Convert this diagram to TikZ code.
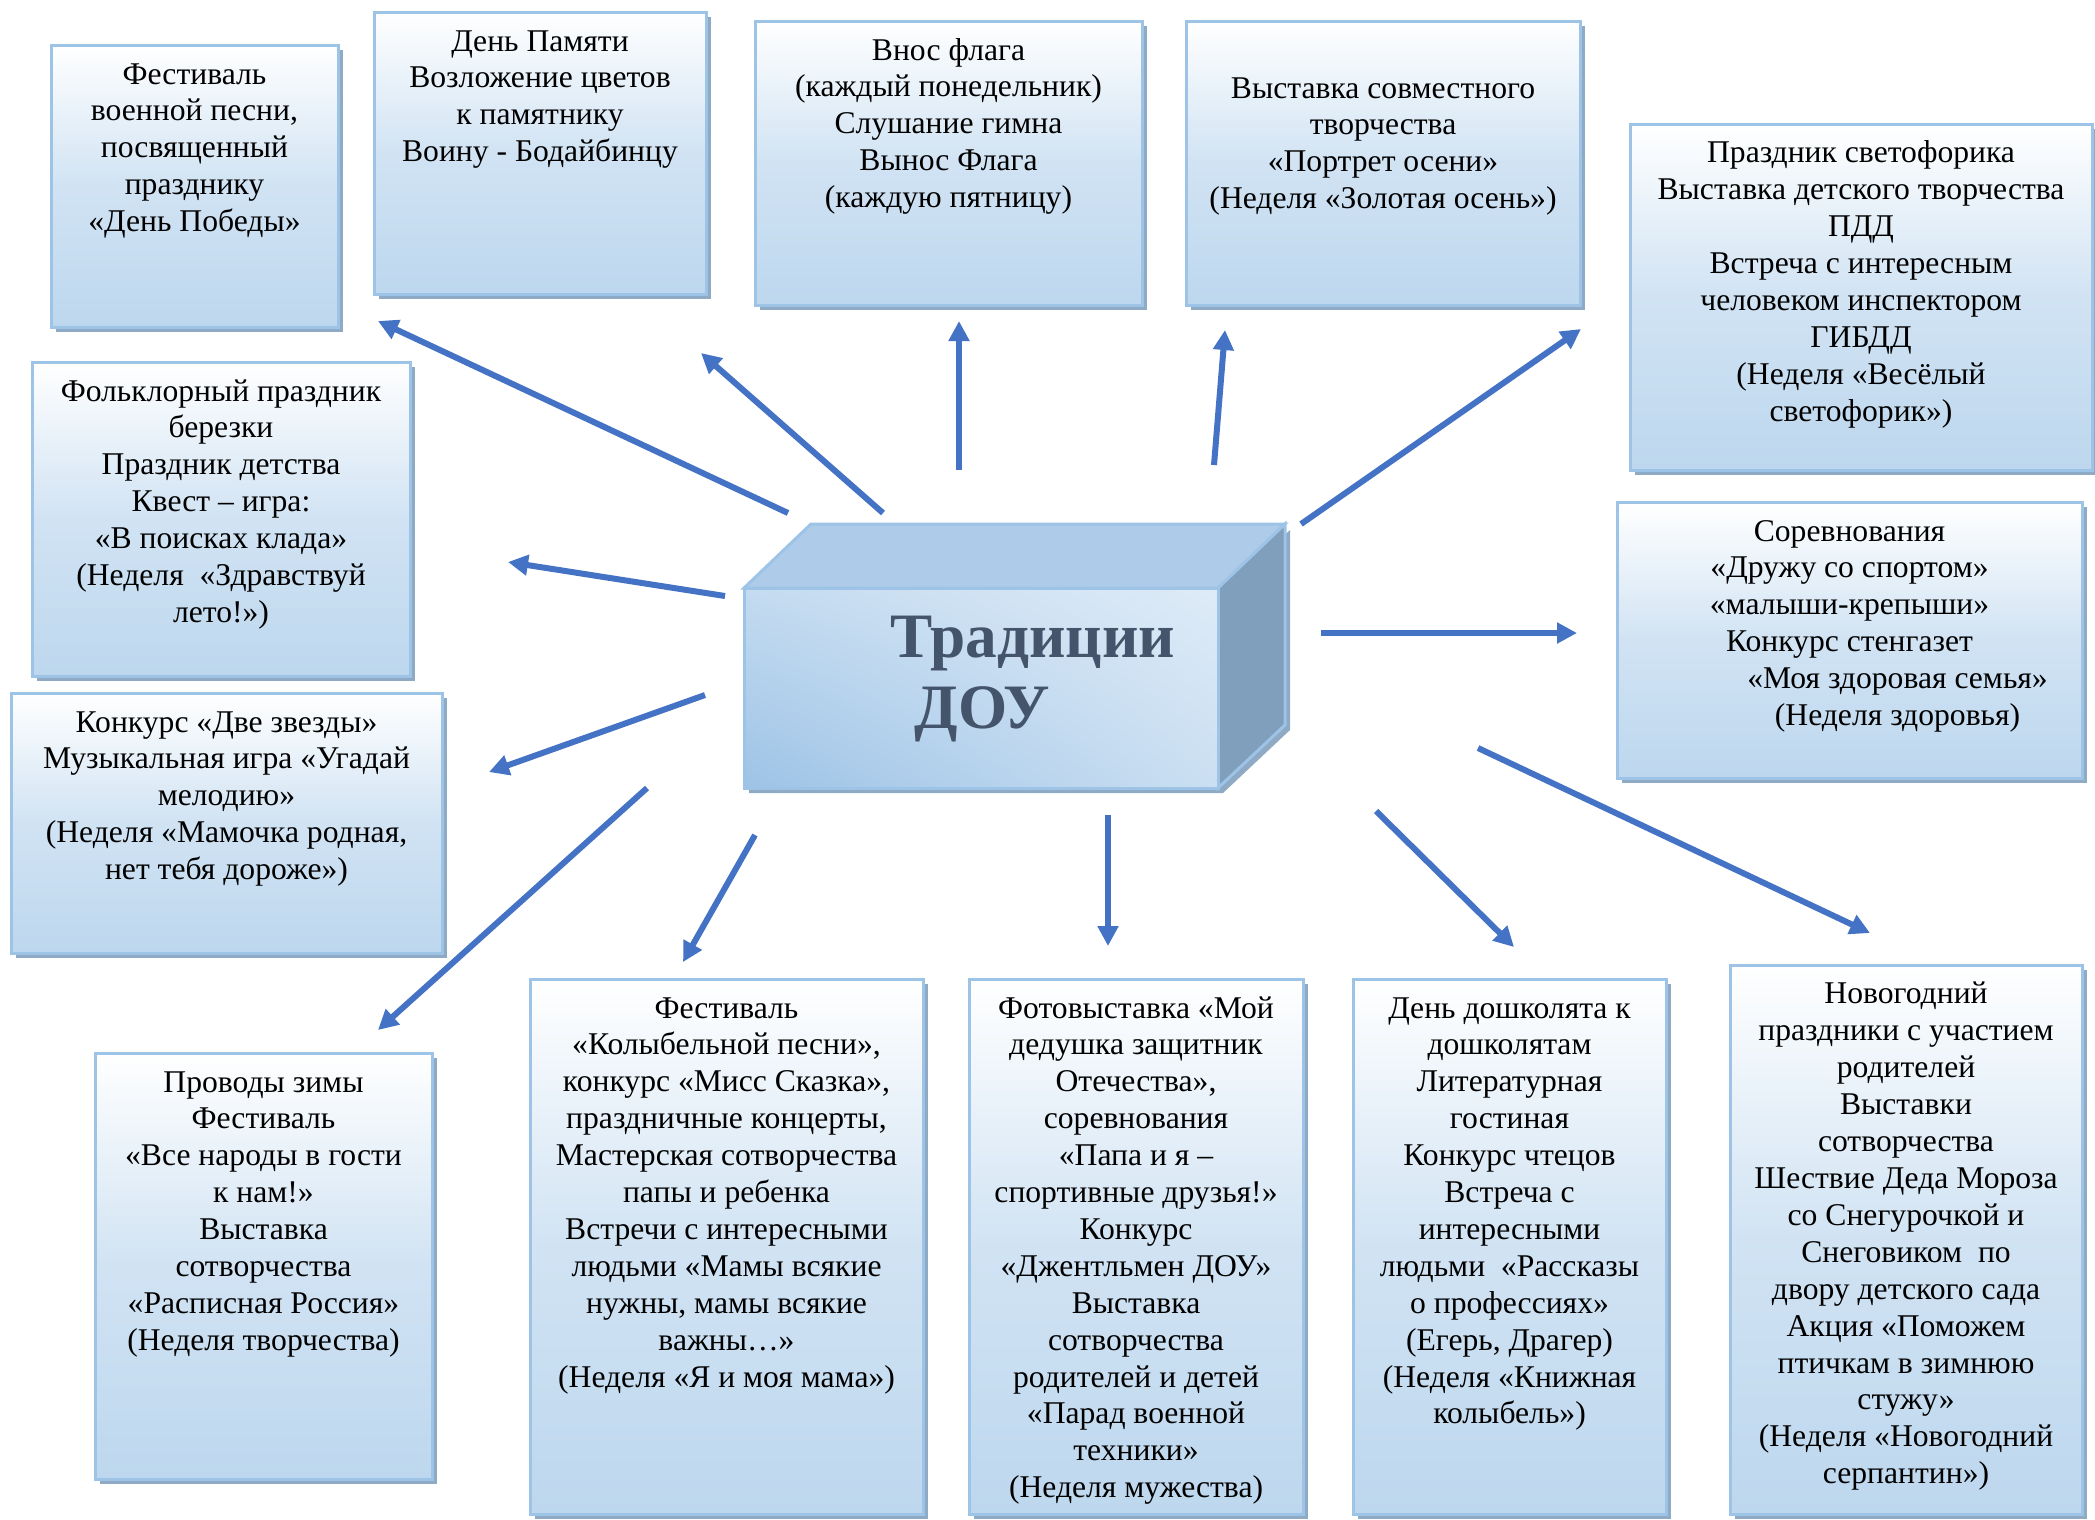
\documentclass[tikz,border=0pt]{standalone}
\usepackage{fontspec}
\setmainfont{Liberation Serif}
\usetikzlibrary{arrows.meta,shadows,shadings}

\definecolor{fig-box-blue}{RGB}{189,215,238}
\definecolor{fig-box-border}{RGB}{157,195,230}
\definecolor{fig-box-shadow}{RGB}{143,170,196}
\definecolor{fig-arrow}{RGB}{68,114,196}
\definecolor{fig-cube-top}{RGB}{174,203,234}
\definecolor{fig-cube-side}{RGB}{127,159,188}
\definecolor{fig-cube-light}{RGB}{222,235,247}
\definecolor{fig-cube-dark}{RGB}{157,195,230}
\definecolor{fig-cube-text}{RGB}{68,84,106}

\begin{document}
\begin{tikzpicture}[x=0.1mm, y=-0.1mm,
    box/.style={draw=fig-box-border, line width=0.3mm, top color=white,
      bottom color=fig-box-blue, middle color=fig-box-blue!70!white,
      drop shadow={shadow xshift=0.5mm, shadow yshift=-0.5mm,
        fill=fig-box-shadow, opacity=1}},
    txt/.style={align=center, inner sep=0pt, anchor=base,
      font=\fontsize{9pt}{10.5pt}\selectfont},
    arr/.style={draw=fig-arrow, line width=0.6mm,
      -{Triangle[length=2mm, width=2mm]}}]
    \useasboundingbox (0,0) rectangle (2095,1519);

    % top row (text nodes sit on the baseline of their last line)
    \path[box] (51,45) rectangle (338,327);
    \node[txt] (fest) at (194.5,231.6) {Фестиваль\\военной песни,\\посвященный\\празднику\\«День Победы»};

    \path[box] (374,12) rectangle (706,294);
    \node[txt] (pamyat) at (540,161.7) {День Памяти\\Возложение цветов\\к памятнику\\Воину - Бодайбинцу};

    \path[box] (755,21) rectangle (1142,305);
    \node[txt] (flag) at (948.5,207.6) {Внос флага\\(каждый понедельник)\\Слушание гимна\\Вынос Флага\\(каждую пятницу)};

    \path[box] (1186,21) rectangle (1580,305);
    \node[txt] (osen) at (1383,208.7) {Выставка совместного\\творчества\\«Портрет осени»\\(Неделя «Золотая осень»)};

    \path[box] (1630,124) rectangle (2092,470);
    \node[txt] (svetofor) at (1861,421.3) {Праздник светофорика\\Выставка детского творчества\\ПДД\\Встреча с интересным\\человеком инспектором\\ГИБДД\\(Неделя «Весёлый\\светофорик»)};

    % sides
    \path[box] (32,362) rectangle (410,676);
    \node[txt] (folk) at (221,622.4) {Фольклорный праздник\\березки\\Праздник детства\\Квест – игра:\\«В поисках клада»\\(Неделя~ «Здравствуй\\лето!»)};

    \path[box] (1617,502) rectangle (2082,778);
    \node[txt] (sport) at (1849.5,725.5) {Соревнования\\«Дружу со спортом»\\«малыши-крепыши»\\Конкурс стенгазет\\\hspace*{9.6mm}«Моя здоровая семья»\\\hspace*{9.6mm}(Неделя здоровья)};

    \path[box] (11,693) rectangle (442,953);
    \node[txt] (zvezdy) at (226.5,879.6) {Конкурс «Две звезды»\\Музыкальная игра «Угадай\\мелодию»\\(Неделя «Мамочка родная,\\нет тебя дороже»)};

    % bottom row
    \path[box] (95,1053) rectangle (432,1479);
    \node[txt] (zima) at (263.5,1350.3) {Проводы зимы\\Фестиваль\\«Все народы в гости\\к нам!»\\Выставка\\сотворчества\\«Расписная Россия»\\(Неделя творчества)};

    \path[box] (530,979) rectangle (923,1514);
    \node[txt] (koly) at (726.5,1387) {Фестиваль\\«Колыбельной песни»,\\конкурс «Мисс Сказка»,\\праздничные концерты,\\Мастерская сотворчества\\папы и ребенка\\Встречи с интересными\\людьми «Мамы всякие\\нужны, мамы всякие\\важны…»\\(Неделя «Я и моя мама»)};

    \path[box] (969,979) rectangle (1303,1514);
    \node[txt] (foto) at (1136,1497.7) {Фотовыставка «Мой\\дедушка защитник\\Отечества»,\\соревнования\\«Папа и я –\\спортивные друзья!»\\Конкурс\\«Джентльмен ДОУ»\\Выставка\\сотворчества\\родителей и детей\\«Парад военной\\техники»\\(Неделя мужества)};

    \path[box] (1353,979) rectangle (1666,1514);
    \node[txt] (doshk) at (1509.5,1423.9) {День дошколята к\\дошколятам\\Литературная\\гостиная\\Конкурс чтецов\\Встреча с\\интересными\\людьми~ «Рассказы\\о профессиях»\\(Егерь, Драгер)\\(Неделя «Книжная\\колыбель»)};

    \path[box] (1730,965) rectangle (2082,1514);
    \node[txt] (novgod) at (1906,1483.7) {Новогодний\\праздники с участием\\родителей\\Выставки\\сотворчества\\Шествие Деда Мороза\\со Снегурочкой и\\Снеговиком~ по\\двору детского сада\\Акция «Поможем\\птичкам в зимнюю\\стужу»\\(Неделя «Новогодний\\серпантин»)};

    % the block in the middle
    \fill[fig-box-shadow] (749,593) -- (1223,593) -- (1290,530) -- (1290,730) -- (1223,793) -- (749,793) -- cycle;
    \draw[fig-box-border, line width=0.3mm, fill=fig-cube-top] (744,588) -- (811,524) -- (1285,524) -- (1218,588) -- cycle;
    \draw[fig-box-border, line width=0.3mm, fill=fig-cube-side] (1218,588) -- (1285,524) -- (1285,725) -- (1218,788) -- cycle;
    \draw[fig-box-border, line width=0.3mm, lower left=fig-cube-dark, upper left=fig-cube-light!60!fig-cube-dark,
      lower right=fig-cube-light!70!fig-cube-dark, upper right=fig-cube-light] (744,588) rectangle (1218,788);
    \node[align=left, inner sep=0pt, anchor=base west, text=fig-cube-text,
      font=\fontsize{18pt}{20.2pt}\selectfont\bfseries] (trad) at (890,728) {Традиции\\\hspace*{2.4mm}ДОУ};

    % arrow ends
    \coordinate (s1) at (788,513);  \coordinate (e1) at (378,321);
    \coordinate (s2) at (883,513);  \coordinate (e2) at (701,353);
    \coordinate (s3) at (959,470);  \coordinate (e3) at (959,321);
    \coordinate (s4) at (1214,465); \coordinate (e4) at (1225,330);
    \coordinate (s5) at (1301,524); \coordinate (e5) at (1581,329);
    \coordinate (s6) at (725,596);  \coordinate (e6) at (508,562);
    \coordinate (s7) at (1321,633); \coordinate (e7) at (1577,633);
    \coordinate (s8) at (705,695);  \coordinate (e8) at (489,772);
    \coordinate (s9) at (647,788);  \coordinate (e9) at (378,1030);
    \coordinate (s10) at (755,835); \coordinate (e10) at (683,962);
    \coordinate (s11) at (1108,815); \coordinate (e11) at (1108,946);
    \coordinate (s12) at (1376,811); \coordinate (e12) at (1514,947);
    \coordinate (s13) at (1478,748); \coordinate (e13) at (1870,933);

    \draw[arr] (s1) -- (e1);
    \draw[arr] (s2) -- (e2);
    \draw[arr] (s3) -- (e3);
    \draw[arr] (s4) -- (e4);
    \draw[arr] (s5) -- (e5);
    \draw[arr] (s6) -- (e6);
    \draw[arr] (s7) -- (e7);
    \draw[arr] (s8) -- (e8);
    \draw[arr] (s9) -- (e9);
    \draw[arr] (s10) -- (e10);
    \draw[arr] (s11) -- (e11);
    \draw[arr] (s12) -- (e12);
    \draw[arr] (s13) -- (e13);
\end{tikzpicture}
\end{document}
